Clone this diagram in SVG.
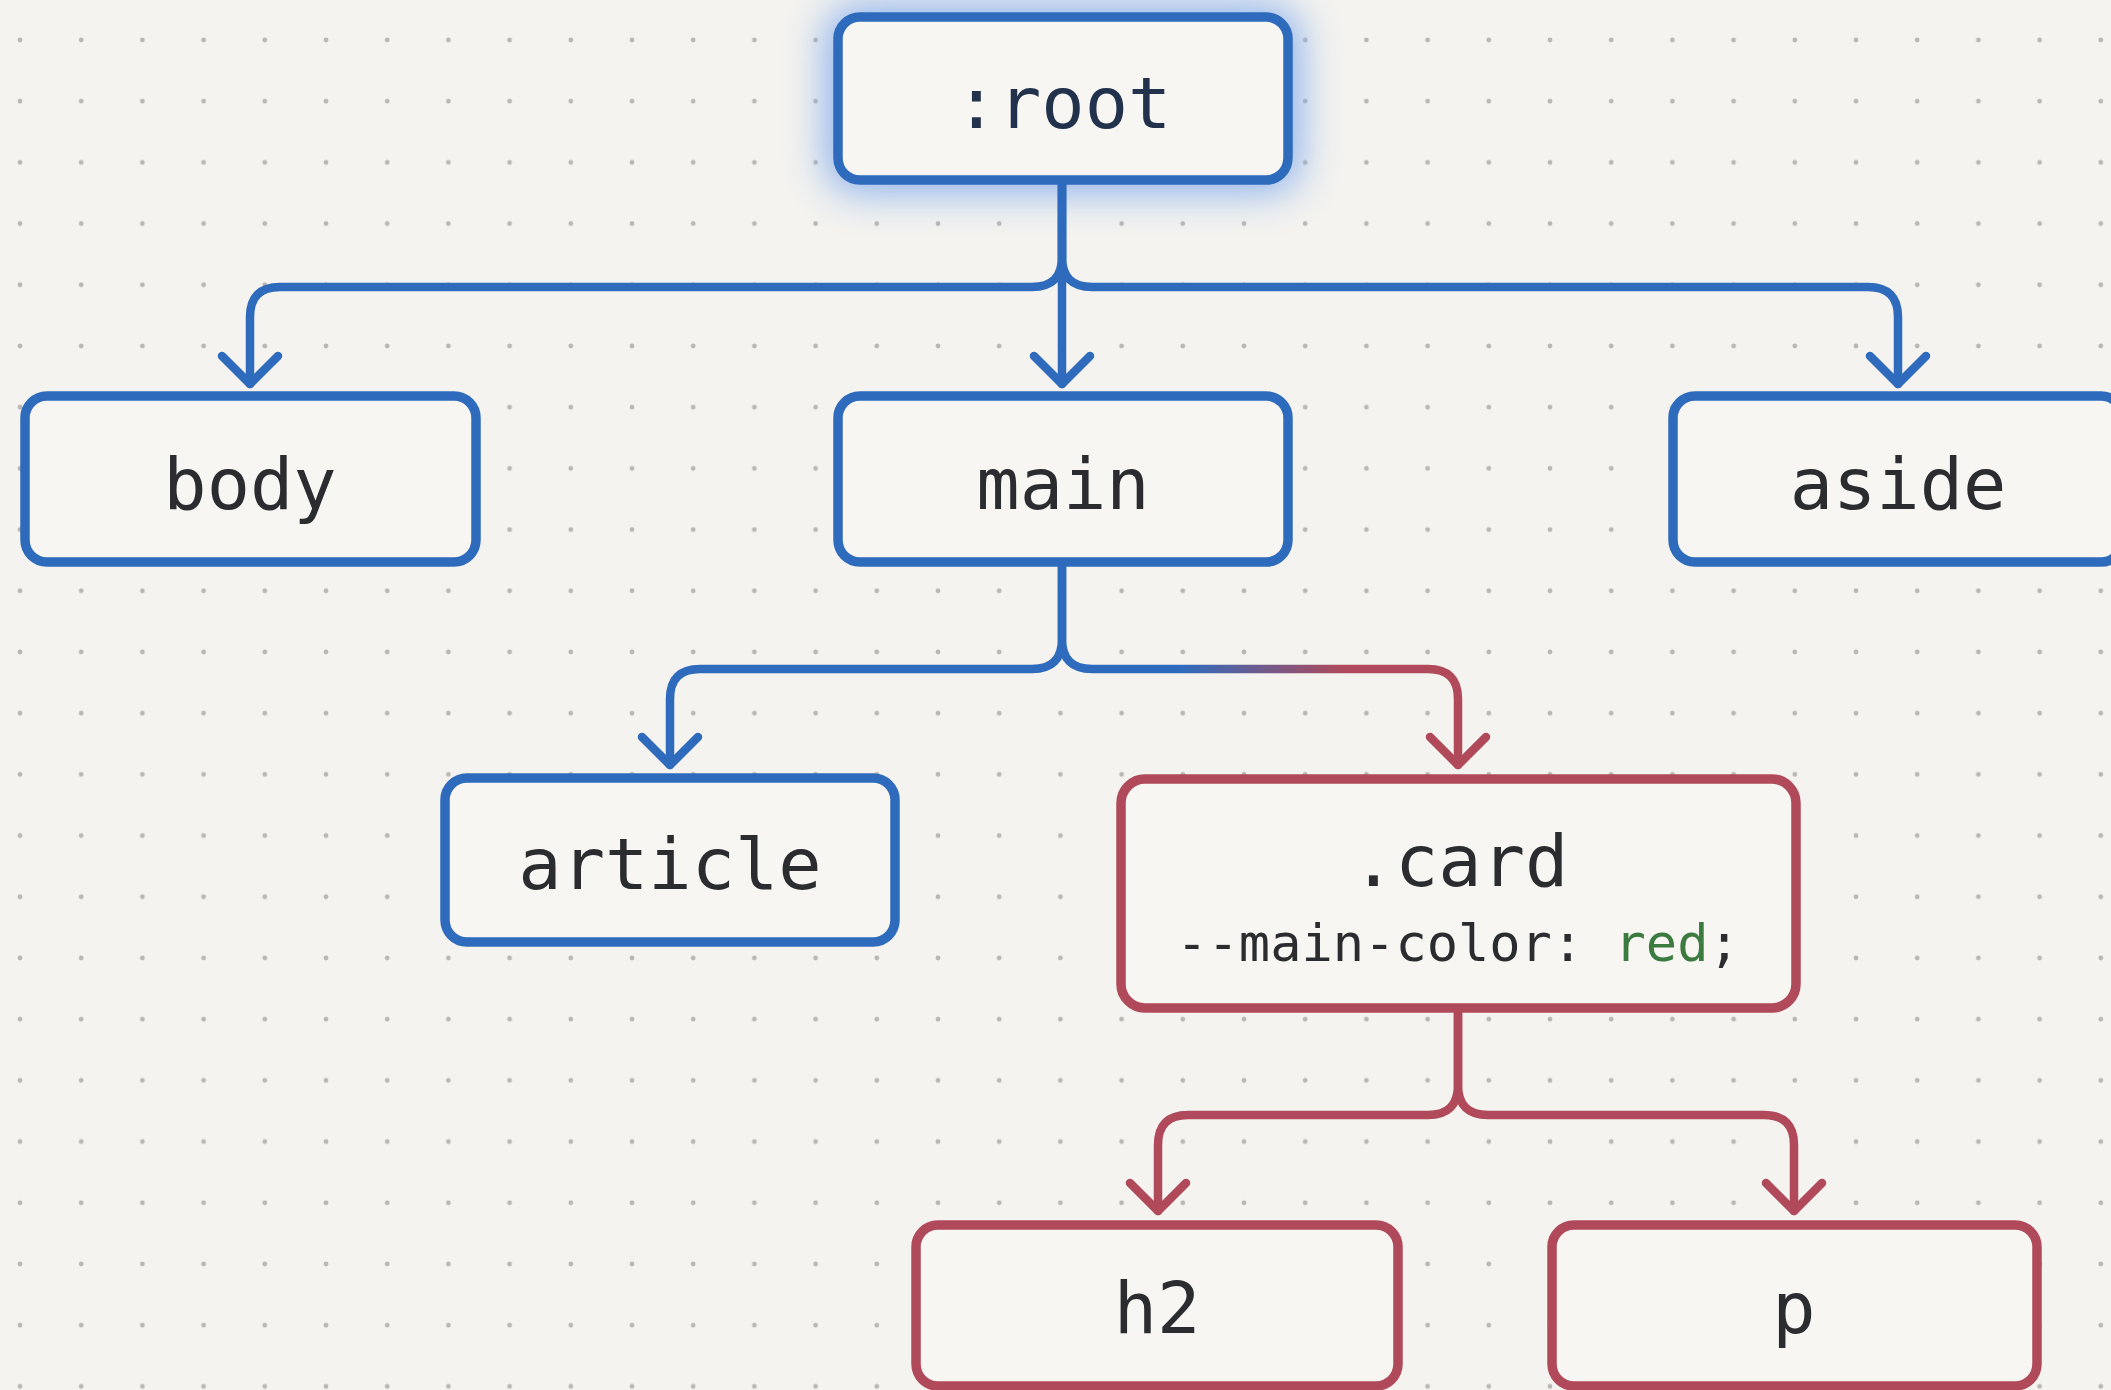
<svg xmlns="http://www.w3.org/2000/svg" width="2111" height="1390" viewBox="0 0 2111 1390">
<style>
.bg{fill:#f4f3ef}
.box{stroke-width:9.5;fill:#f7f6f2}
.blue{stroke:#2f6bbc}
.red{stroke:#b04a5b}
.lbl{font-family:"DejaVu Sans Mono","Liberation Mono",monospace;font-size:72px;fill:#2a2c30;text-anchor:middle}
.sub{font-size:52px}
.conn path{fill:none;stroke-width:8.5;stroke-linecap:round;stroke-linejoin:round}
</style>
<defs>
<pattern id="dots" patternUnits="userSpaceOnUse" x="-10.6" y="9.4" width="61.2" height="61.2">
<circle cx="30.6" cy="30.6" r="2.4" fill="#b8b7b2"/>
</pattern>
<filter id="glow" x="-40%" y="-80%" width="180%" height="260%">
<feGaussianBlur stdDeviation="20"/>
</filter>
<linearGradient id="grad" gradientUnits="userSpaceOnUse" x1="1180" y1="0" x2="1345" y2="0">
<stop offset="0" stop-color="#2f6bbc"/>
<stop offset="1" stop-color="#b04a5b"/>
</linearGradient>
<marker id="ahb" markerUnits="userSpaceOnUse" viewBox="-40 -40 80 80" markerWidth="80" markerHeight="80" refX="0" refY="0" orient="auto" overflow="visible">
<path d="M-28 -28 L0 0 L-28 28" fill="none" stroke="#2f6bbc" stroke-width="8.5" stroke-linecap="round" stroke-linejoin="round"/>
</marker>
<marker id="ahr" markerUnits="userSpaceOnUse" viewBox="-40 -40 80 80" markerWidth="80" markerHeight="80" refX="0" refY="0" orient="auto" overflow="visible">
<path d="M-28 -28 L0 0 L-28 28" fill="none" stroke="#b04a5b" stroke-width="8.5" stroke-linecap="round" stroke-linejoin="round"/>
</marker>
</defs>
<rect class="bg" x="0" y="0" width="2111" height="1390"/>
<rect x="0" y="0" width="2111" height="1390" fill="url(#dots)"/>
<rect x="826" y="6" width="474" height="186" rx="30" fill="#7fa9ee" opacity="0.9" filter="url(#glow)"/>
<g id="connectors" class="conn">
<path class="blue" marker-end="url(#ahb)" d="M1062 180 V257 Q1062 287 1032 287 H280 Q250 287 250 317 V384"/>
<path class="blue" marker-end="url(#ahb)" d="M1062 180 V384"/>
<path class="blue" marker-end="url(#ahb)" d="M1062 180 V257 Q1062 287 1092 287 H1868 Q1898 287 1898 317 V384"/>
<path class="blue" marker-end="url(#ahb)" d="M1062 562 V639 Q1062 669 1032 669 H700 Q670 669 670 699 V765"/>
<path stroke="url(#grad)" marker-end="url(#ahr)" d="M1062 562 V639 Q1062 669 1092 669 H1428 Q1458 669 1458 699 V765"/>
<path class="red" marker-end="url(#ahr)" d="M1458 1008 V1085 Q1458 1115 1428 1115 H1188 Q1158 1115 1158 1145 V1211"/>
<path class="red" marker-end="url(#ahr)" d="M1458 1008 V1085 Q1458 1115 1488 1115 H1764 Q1794 1115 1794 1145 V1211"/>
</g>
<g id="root">
<rect class="box blue" x="838" y="17" width="450" height="163" rx="22"/>
<text class="lbl" x="1063" y="128" style="fill:#22324c">:root</text>
</g>
<g id="body">
<rect class="box blue" x="25" y="396" width="451" height="166" rx="22"/>
<text class="lbl" x="250" y="509">body</text>
</g>
<g id="main">
<rect class="box blue" x="838" y="396" width="450" height="166" rx="22"/>
<text class="lbl" x="1063" y="509">main</text>
</g>
<g id="aside">
<rect class="box blue" x="1673" y="396" width="450" height="166" rx="22"/>
<text class="lbl" x="1898" y="509">aside</text>
</g>
<g id="article">
<rect class="box blue" x="445" y="778" width="450" height="164" rx="22"/>
<text class="lbl" x="670" y="889">article</text>
</g>
<g id="card">
<rect class="box red" x="1121" y="779" width="675" height="229" rx="24"/>
<text class="lbl" x="1460" y="886">.card</text>
<text class="lbl sub" x="1458" y="961">--main-color: <tspan fill="#3c7b40">red</tspan>;</text>
</g>
<g id="h2">
<rect class="box red" x="916" y="1225" width="482" height="161" rx="22"/>
<text class="lbl" x="1157" y="1333">h2</text>
</g>
<g id="p">
<rect class="box red" x="1552" y="1225" width="485" height="161" rx="22"/>
<text class="lbl" x="1794" y="1333">p</text>
</g>
</svg>
